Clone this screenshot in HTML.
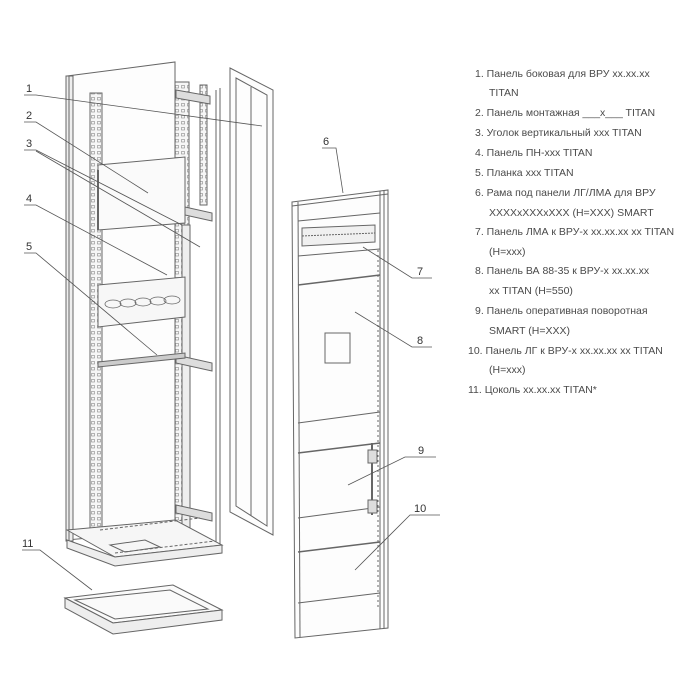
<!DOCTYPE html>
<html><head><meta charset="utf-8"><style>
html,body{margin:0;padding:0;background:#fff}
svg{display:block}
.t{font-family:"Liberation Sans",sans-serif;font-size:10.5px;fill:#4a4a4a}
.n{font-family:"Liberation Sans",sans-serif;font-size:11px;fill:#333}
</style></head><body>
<svg width="700" height="700" viewBox="0 0 700 700" xmlns="http://www.w3.org/2000/svg">
<defs>
<pattern id="perf" width="6" height="6" patternUnits="userSpaceOnUse"><rect width="6" height="6" fill="#f6f6f6"/><rect x="1.5" y="1.5" width="3" height="2.5" fill="none" stroke="#888" stroke-width="0.6"/></pattern>
</defs>
<g fill="none" stroke="#666" stroke-width="1">
<polygon points="67,76 175,62 175,530 67,540" fill="#fdfdfd"/>
<rect x="66" y="76" width="7" height="465" fill="#eee"/>
<line x1="69" y1="76" x2="69" y2="541"/>
<line x1="220" y1="88" x2="220" y2="552"/>
<line x1="216" y1="90" x2="216" y2="550"/>
<rect x="200" y="85" width="7" height="120" fill="url(#perf)"/>
<rect x="90" y="93" width="12" height="447" fill="url(#perf)"/>
<rect x="175" y="82" width="14" height="448" fill="url(#perf)"/>
<rect x="182" y="225" width="8" height="305" fill="#eee"/>
<polygon points="176,90 210,96 210,104 176,98" fill="#ddd"/>
<polygon points="176,205 212,213 212,221 176,213" fill="#ddd"/>
<polygon points="176,355 212,363 212,371 176,363" fill="#ddd"/>
<polygon points="176,505 212,513 212,521 176,513" fill="#ddd"/>
<polygon points="98,165 185,157 185,223 98,230" fill="#fafafa"/>
<line x1="98" y1="170" x2="98" y2="230" stroke-width="2"/>
<polygon points="98,285 185,277 185,317 98,327" fill="#f7f7f7"/>
<g stroke-width="0.8">
<ellipse cx="113" cy="304" rx="8" ry="4"/><ellipse cx="128" cy="303" rx="8" ry="4"/><ellipse cx="143" cy="302" rx="8" ry="4"/><ellipse cx="158" cy="301" rx="8" ry="4"/><ellipse cx="172" cy="300" rx="8" ry="4"/>
</g>
<polygon points="98,362 185,353 185,358 98,367" fill="#ccc"/>
<polygon points="67,530 175,520 222,545 115,557" fill="#f6f6f6"/>
<polygon points="67,540 115,557 222,545 222,553 115,566 67,548" fill="#eee"/>
<polygon points="110,545 145,540 160,547 125,552"/>
<line x1="100" y1="530" x2="200" y2="518" stroke-dasharray="3,2"/>
<line x1="115" y1="553" x2="215" y2="541" stroke-dasharray="3,2"/>
<!-- side panel 1 -->
<polygon points="230,68 273,90 273,535 230,512" fill="#fdfdfd"/>
<polygon points="236,78 267,95 267,526 236,506"/>
<line x1="251" y1="87" x2="251" y2="516"/>
<polygon points="65,598 173,585 222,610 113,623" fill="#fafafa"/>
<polygon points="75,600 170,590 208,609 115,619"/>
<polygon points="65,598 113,623 222,610 222,620 113,634 65,608" fill="#eee"/>
<polygon points="292,202 388,190 388,628 295,638" fill="#fdfdfd"/>
<line x1="298" y1="202" x2="300" y2="637"/>
<line x1="380" y1="191" x2="380" y2="629"/>
<line x1="384" y1="190" x2="384" y2="628"/>
<line x1="292" y1="206" x2="388" y2="194"/>
<line x1="298" y1="221" x2="380" y2="213"/>
<polygon points="302,228 375,225 375,242 302,246" fill="#f0f0f0"/>
<line x1="302" y1="236" x2="375" y2="233" stroke-dasharray="2,1"/>
<line x1="298" y1="256" x2="380" y2="249"/>
<line x1="298" y1="285" x2="380" y2="275" stroke-width="1.5"/>
<rect x="325" y="333" width="25" height="30"/>
<line x1="298" y1="423" x2="380" y2="412"/>
<line x1="298" y1="453" x2="380" y2="443" stroke-width="1.5"/>
<line x1="298" y1="518" x2="380" y2="507"/>
<line x1="298" y1="552" x2="380" y2="542" stroke-width="1.5"/>
<line x1="298" y1="603" x2="380" y2="593"/>
<line x1="372" y1="443" x2="372" y2="515" stroke-width="2"/>
<rect x="368" y="450" width="9" height="13" fill="#ddd"/>
<rect x="368" y="500" width="9" height="13" fill="#ddd"/>
<line x1="378" y1="250" x2="378" y2="610" stroke-dasharray="2,3"/>
</g>
<g stroke="#555" stroke-width="0.8" fill="none">
<polyline points="24,95 36,95 262,126"/>
<polyline points="24,122 36,122 148,193"/>
<polyline points="24,150 36,150 182,225"/>
<line x1="36" y1="151" x2="200" y2="247"/>
<polyline points="24,205 36,205 167,275"/>
<polyline points="24,253 36,253 157,355"/>
<polyline points="22,550 40,550 92,590"/>
<polyline points="322,148 336,148 343,193"/>
<polyline points="432,278 412,278 363,247"/>
<polyline points="432,347 412,347 355,312"/>
<polyline points="436,457 405,457 348,485"/>
<polyline points="440,515 410,515 355,570"/>
</g>
<g class="n">
<text x="26" y="92">1</text><text x="26" y="119">2</text><text x="26" y="147">3</text><text x="26" y="202">4</text><text x="26" y="250">5</text><text x="22" y="547">11</text>
<text x="323" y="145">6</text><text x="417" y="275">7</text><text x="417" y="344">8</text><text x="418" y="454">9</text><text x="414" y="512">10</text>
</g>
<g class="t">
<text x="475" y="77">1. Панель боковая для ВРУ xx.xx.xx</text>
<text x="489" y="96">TITAN</text>
<text x="475" y="116">2. Панель монтажная ___x___ TITAN</text>
<text x="475" y="136">3. Уголок вертикальный xxx TITAN</text>
<text x="475" y="156">4. Панель ПН-xxx TITAN</text>
<text x="475" y="176">5. Планка xxx TITAN</text>
<text x="475" y="196">6. Рама под панели ЛГ/ЛМА для ВРУ</text>
<text x="489" y="216">XXXXxXXXxXXX (H=XXX) SMART</text>
<text x="475" y="235">7. Панель ЛМА к ВРУ-x xx.xx.xx xx TITAN</text>
<text x="489" y="255">(H=xxx)</text>
<text x="475" y="274">8. Панель ВА 88-35 к ВРУ-x xx.xx.xx</text>
<text x="489" y="294">xx TITAN (H=550)</text>
<text x="475" y="314">9. Панель оперативная поворотная</text>
<text x="489" y="334">SMART (H=XXX)</text>
<text x="468" y="354">10. Панель ЛГ к ВРУ-x xx.xx.xx xx TITAN</text>
<text x="489" y="373">(H=xxx)</text>
<text x="468" y="393">11. Цоколь xx.xx.xx TITAN*</text>
</g>
</svg>
</body></html>
